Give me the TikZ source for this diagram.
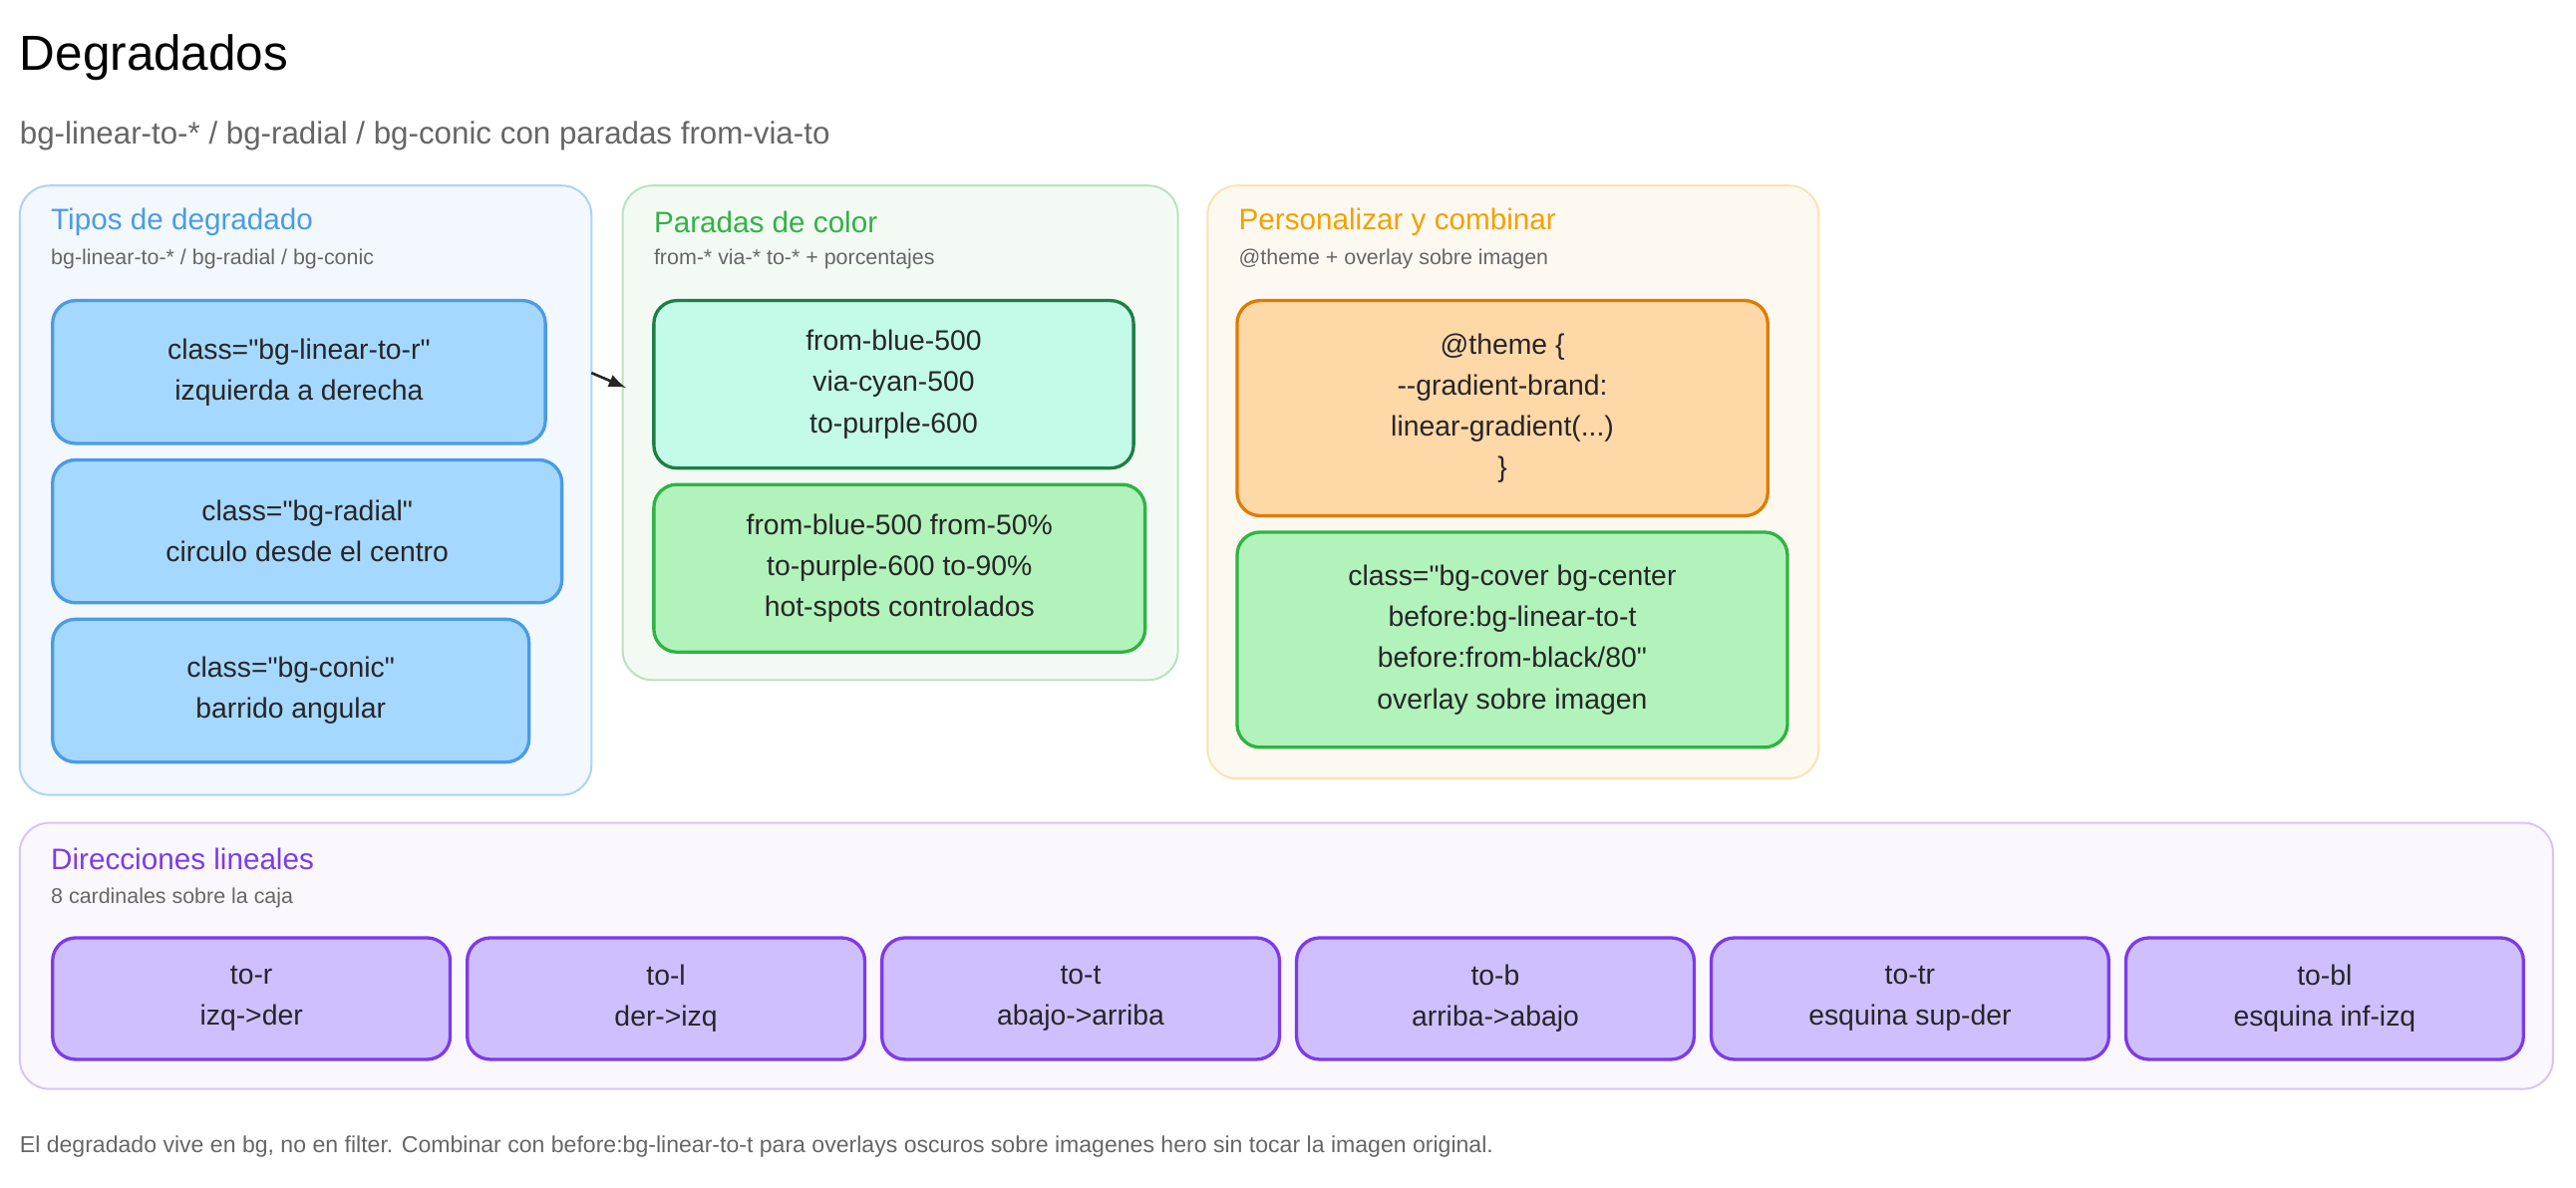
\documentclass[tikz,border=0pt]{standalone}
\usepackage{fontspec}
\setmainfont{Liberation Sans}[Ligatures=TeXOff]
\newcommand{\q}{"}
\begin{document}
\begin{tikzpicture}[x=0.5pt,y=-0.5pt,
 panel/.style={rounded corners=9pt,line width=0.6pt},
 box/.style={rounded corners=7pt,line width=1pt,align=center,font=\fontsize{8.6}{12.5}\selectfont,text=black!85},
 ptitle/.style={anchor=west,font=\fontsize{9}{11}\selectfont},
 psub/.style={anchor=west,font=\fontsize{6.5}{8}\selectfont,text=black!60}]
\definecolor{bl}{HTML}{4A9BE8}\definecolor{blf}{HTML}{A5D8FF}
\definecolor{gr}{HTML}{2FB344}\definecolor{grf}{HTML}{B2F2BB}
\definecolor{dg}{HTML}{1E7E45}\definecolor{cy}{HTML}{C3FAE8}
\definecolor{or}{HTML}{F59F00}\definecolor{ord}{HTML}{E07B00}\definecolor{orf}{HTML}{FFD8A8}
\definecolor{pu}{HTML}{7C3AED}\definecolor{puf}{HTML}{D0BFFF}
\useasboundingbox (0,0) rectangle (1568,723);
\fill[white] (0,0) rectangle (1568,723);
\node[anchor=west,font=\fontsize{15}{18}\selectfont] (t) at (5,35) {Degradados};
\node[anchor=west,font=\fontsize{9.5}{12}\selectfont,text=black!60] (st) at (5,83) {bg-linear-to-* / bg-radial / bg-conic con paradas from-via-to};
% panels
\draw[panel,draw=bl!45,fill=bl!7] (12,113) rectangle (360,484);
\node[ptitle,text=bl] (p1t) at (24,135) {Tipos de degradado};
\node[psub] (p1s) at (24,158) {bg-linear-to-* / bg-radial / bg-conic};
\draw[panel,draw=gr!35,fill=gr!6] (379,113) rectangle (717,414);
\node[ptitle,text=gr] (p2t) at (391,135) {Paradas de color};
\node[psub] (p2s) at (391,158) {from-* via-* to-* + porcentajes};
\draw[panel,draw=or!30,fill=or!6] (735,113) rectangle (1107,474);
\node[ptitle,text=or] (p3t) at (747,135) {Personalizar y combinar};
\node[psub] (p3s) at (747,158) {@theme + overlay sobre imagen};
\draw[panel,draw=pu!30,fill=pu!4] (12,501) rectangle (1554,663);
\node[ptitle,text=pu] (p4t) at (24,523) {Direcciones lineales};
\node[psub] (p4s) at (24,547) {8 cardinales sobre la caja};
% boxes
\node[box,draw=bl,fill=blf,minimum width=150pt,minimum height=43.5pt] (b1) at (182,226.5) {class=\q bg-linear-to-r\q\\izquierda a derecha};
\node[box,draw=bl,fill=blf,minimum width=155pt,minimum height=43.5pt] (b2) at (187,323.5) {class=\q bg-radial\q\\circulo desde el centro};
\node[box,draw=bl,fill=blf,minimum width=145pt,minimum height=43.5pt] (b3) at (177,420.5) {class=\q bg-conic\q\\barrido angular};
\node[box,draw=dg,fill=cy,minimum width=146pt,minimum height=51pt] (c1) at (544,234) {from-blue-500\\via-cyan-500\\to-purple-600};
\node[box,draw=gr,fill=grf,minimum width=149.5pt,minimum height=51pt] (c2) at (547.5,346) {from-blue-500 from-50\%\\to-purple-600 to-90\%\\hot-spots controlados};
\node[box,draw=ord,fill=orf,minimum width=161.5pt,minimum height=65.5pt] (d1) at (914.5,248.5) {@theme \{\\--gradient-brand:\\linear-gradient(...)\\\}};
\node[box,draw=gr,fill=grf,minimum width=167.5pt,minimum height=65.5pt] (d2) at (920.5,389.5) {class=\q bg-cover bg-center\\before:bg-linear-to-t\\before:from-black/80\q\\overlay sobre imagen};
\foreach \i/\a/\b in {0/to-r/izq->der,1/to-l/der->izq,2/to-t/abajo->arriba,3/to-b/arriba->abajo,4/to-tr/esquina sup-der,5/to-bl/esquina inf-izq}
 \node[box,draw=pu,fill=puf,minimum width=121pt,minimum height=37pt] (e\i) at ({153+252.4*\i},608) {\a\\\b};
\coordinate (a1) at (360,227);
\coordinate (a2) at (381,236);
\draw[-latex,line width=0.8pt,black!85] (a1) -- (a2);
\node[anchor=west,font=\fontsize{7}{9}\selectfont,text=black!60] (f) at (5,698) {El degradado vive en bg, no en filter. Combinar con before:bg-linear-to-t para overlays oscuros sobre imagenes hero sin tocar la imagen original.};
\end{tikzpicture}
\end{document}
